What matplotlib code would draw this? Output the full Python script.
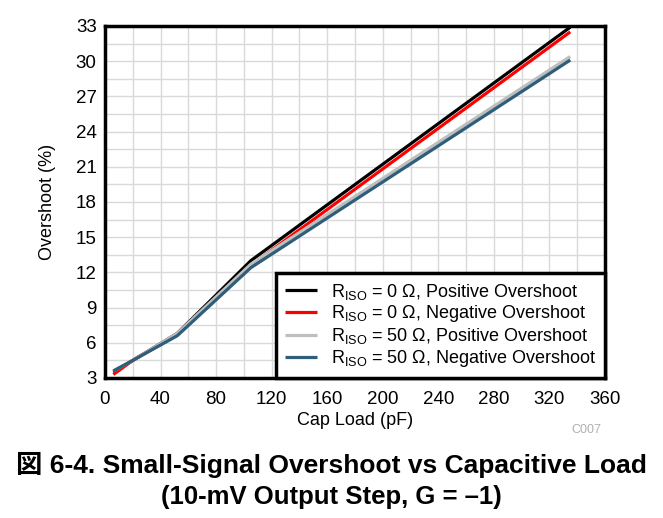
import matplotlib
matplotlib.use("Agg")
from matplotlib import pyplot as plt
import numpy as np

plt.rcParams['font.family'] = ['Liberation Sans', 'Noto Sans CJK JP', 'DejaVu Sans']
plt.rcParams['mathtext.fontset'] = 'custom'
plt.rcParams['mathtext.rm'] = 'Liberation Sans'

# cap load (pF) and overshoot (%)
cap_load = [6, 20, 52, 105, 335]
pos_r0 = [3.5, 4.5, 6.8, 13.0, 32.9]
neg_r0 = [3.3, 4.5, 6.7, 12.6, 32.5]
pos_r50 = [3.6, 4.5, 6.8, 12.7, 30.4]
neg_r50 = [3.6, 4.5, 6.6, 12.4, 30.1]

labels = [r'R$_{\mathrm{ISO}}$ = 0 Ω, Positive Overshoot',
          r'R$_{\mathrm{ISO}}$ = 0 Ω, Negative Overshoot',
          r'R$_{\mathrm{ISO}}$ = 50 Ω, Positive Overshoot',
          r'R$_{\mathrm{ISO}}$ = 50 Ω, Negative Overshoot']
colors = ['#000000', '#ff0000', '#bebebe', '#2e5e7a']
x_ticks = np.arange(0, 361, 40)
y_ticks = np.arange(3, 34, 3)

fig = plt.figure(figsize=(6.63, 5.18), dpi=100)
ax = fig.add_axes([105/663, 1-378/518, 500/663, 352/518])

series = [pos_r0, neg_r0, pos_r50, neg_r50]
for ys, c, lab in zip(series, colors, labels):
    ax.plot(cap_load, ys, color=c, lw=2.3, label=lab, solid_capstyle='butt')

ax.set_xlim(0, 360)
ax.set_ylim(3, 33)
ax.set_xticks(x_ticks)
ax.set_yticks(y_ticks)
ax.set_xticks(np.arange(0, 361, 20), minor=True)
ax.set_yticks(np.arange(3, 33.1, 1.5), minor=True)
ax.grid(which='both', color='#d9d9d9', lw=1)
ax.set_axisbelow(True)
ax.tick_params(which='both', length=0, labelsize=13.5)
ax.tick_params(axis='x', pad=9)
ax.tick_params(axis='y', pad=6)
for s in ax.spines.values():
    s.set_linewidth(2.5)

ax.set_xlabel('Cap Load (pF)', fontsize=13, labelpad=3)
ax.set_ylabel('Overshoot (%)', fontsize=13, labelpad=14)

leg = ax.legend(loc='lower right', fontsize=13, frameon=True, fancybox=False,
                borderaxespad=0, handlelength=1.8, labelspacing=0.1,
                borderpad=0.5, handletextpad=0.75)
leg.get_frame().set_edgecolor('black')
leg.get_frame().set_linewidth(2.5)
leg.get_frame().set_alpha(1)

fig.text(601/663, 1-430/518, 'C007', fontsize=9, color='#b0b0b0', ha='right', va='center')
fig.text(0.5, 1-465/518, '図 6-4. Small-Signal Overshoot vs Capacitive Load',
         fontsize=19, fontweight='bold', ha='center', va='center')
fig.text(0.5, 1-497/518, '(10-mV Output Step, G = –1)',
         fontsize=18.5, fontweight='bold', ha='center', va='center')

plt.savefig('out.png', dpi=100)
